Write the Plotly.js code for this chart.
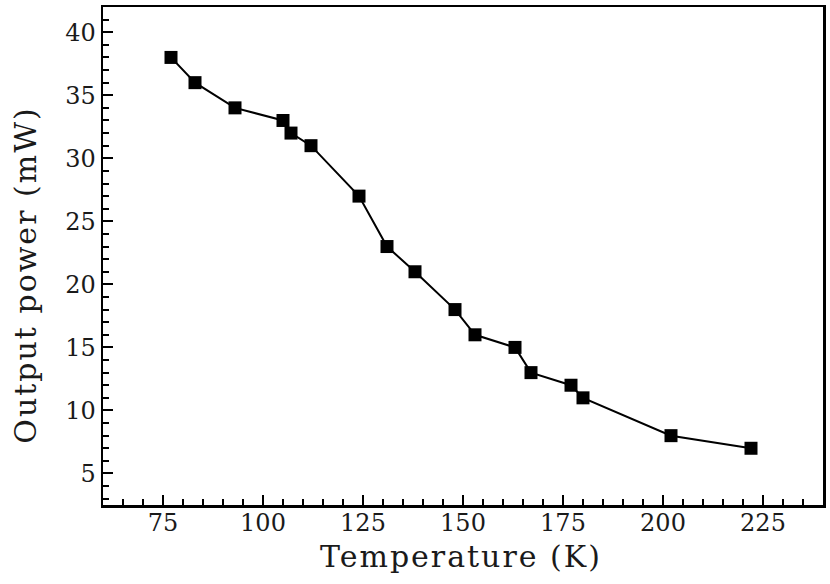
<!DOCTYPE html>
<html>
<head>
<meta charset="utf-8">
<script src="https://cdn.plot.ly/plotly-3.0.1.min.js"></script>
<style>
html, body { margin: 0; padding: 0; background: #fff; }
#chart { width: 830px; height: 584px; }
.annotation-text { letter-spacing: 2px; }
</style>
</head>
<body>
<div id="chart"></div>
<script>
const temperatureK = [77, 83, 93, 105, 107, 112, 124, 131, 138, 148, 153, 163, 167, 177, 180, 202, 222];
const outputPowerMW = [38, 36, 34, 33, 32, 31, 27, 23, 21, 18, 16, 15, 13, 12, 11, 8, 7];
const xTickValues = [75, 100, 125, 150, 175, 200, 225];
const yTickValues = [5, 10, 15, 20, 25, 30, 35, 40];
const xTitle = 'Temperature (K)';
const yTitle = 'Output power (mW)';

const fontFamily = 'DejaVu Serif';
const titleFont = { family: fontFamily, size: 30, color: '#1a1a1a' };

const trace = {
  x: temperatureK,
  y: outputPowerMW,
  type: 'scatter',
  mode: 'lines+markers',
  line: { color: '#000', width: 2 },
  marker: { symbol: 'square', size: 13, color: '#000' },
  showlegend: false
};

const axisCommon = {
  showline: true,
  linecolor: '#000',
  linewidth: 2.5,
  mirror: true,
  ticks: 'inside',
  ticklen: 10,
  tickwidth: 2,
  tickcolor: '#000',
  showgrid: false,
  zeroline: false,
  tickfont: { family: fontFamily, size: 24, color: '#1a1a1a' }
};

const layout = {
  width: 830,
  height: 584,
  paper_bgcolor: '#fff',
  plot_bgcolor: '#fff',
  margin: { l: 103, r: 7, t: 7, b: 79 },
  xaxis: Object.assign({}, axisCommon, {
    range: [60, 240],
    tickvals: xTickValues,
    ticklabelstandoff: -5,
    minor: { dtick: 5, tick0: 0, ticks: 'inside', ticklen: 6, tickwidth: 2, tickcolor: '#000' }
  }),
  yaxis: Object.assign({}, axisCommon, {
    range: [2.5, 42],
    tickvals: yTickValues,
    minor: { dtick: 1, tick0: 0, ticks: 'inside', ticklen: 6, tickwidth: 2, tickcolor: '#000' }
  }),
  annotations: [
    {
      text: xTitle, xref: 'paper', yref: 'paper', x: 0.497, y: -0.104,
      xanchor: 'center', yanchor: 'middle', showarrow: false, font: titleFont
    },
    {
      text: yTitle, xref: 'paper', yref: 'paper', x: -0.108, y: 0.461,
      xanchor: 'center', yanchor: 'middle', textangle: -90, showarrow: false, font: titleFont
    }
  ]
};

Plotly.newPlot('chart', [trace], layout, { displayModeBar: false, staticPlot: true });
</script>
</body>
</html>
